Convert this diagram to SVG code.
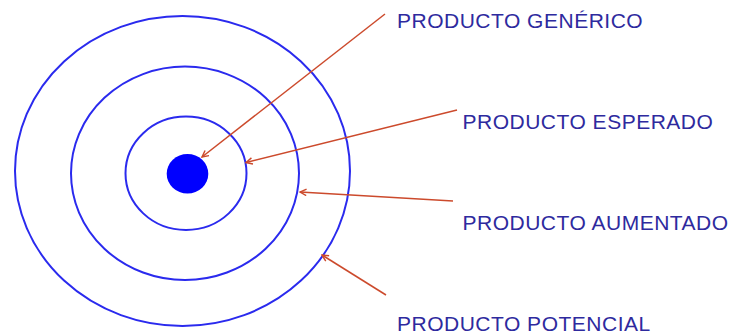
<svg xmlns="http://www.w3.org/2000/svg" width="734" height="334" viewBox="0 0 734 334">
<style>
.ring{fill:none;stroke:#2a2aee;stroke-width:2}
.lbl{font-family:"Liberation Sans",Arial,sans-serif;font-size:21px;letter-spacing:0.5px;fill:#2e2a9e}
.con{stroke:#cc4a2c;stroke-width:1.5;fill:none;marker-end:url(#ah)}
</style>
<defs>
<marker id="ah" viewBox="0 0 10 10" refX="9" refY="5" markerWidth="8" markerHeight="8" markerUnits="userSpaceOnUse" orient="auto">
<path d="M1,1 L9,5 L1,9" fill="none" stroke="#cc4a2c" stroke-width="1.8"/>
</marker>
</defs>
<rect width="734" height="334" fill="#ffffff"/>
<g id="outer"><ellipse class="ring" cx="182.5" cy="171" rx="167.5" ry="155"/></g>
<g id="middle"><ellipse class="ring" cx="185" cy="173.3" rx="114" ry="106.7"/></g>
<g id="inner"><ellipse class="ring" cx="186" cy="173.3" rx="60.5" ry="56.7"/></g>
<g id="core"><ellipse cx="187.5" cy="173.7" rx="20.8" ry="19.7" fill="#0000ff"/></g>
<g id="connectors">
<line class="con" x1="385" y1="14" x2="202" y2="157"/>
<line class="con" x1="457" y1="110" x2="246" y2="162.5"/>
<line class="con" x1="453" y1="201" x2="300" y2="192"/>
<line class="con" x1="386" y1="295" x2="322" y2="255"/>
</g>
<g id="label-generico"><text class="lbl" x="397" y="28">PRODUCTO GENÉRICO</text></g>
<g id="label-esperado"><text class="lbl" x="462.5" y="129">PRODUCTO ESPERADO</text></g>
<g id="label-aumentado"><text class="lbl" x="462.5" y="230">PRODUCTO AUMENTADO</text></g>
<g id="label-potencial"><text class="lbl" x="397" y="331">PRODUCTO POTENCIAL</text></g>
</svg>
